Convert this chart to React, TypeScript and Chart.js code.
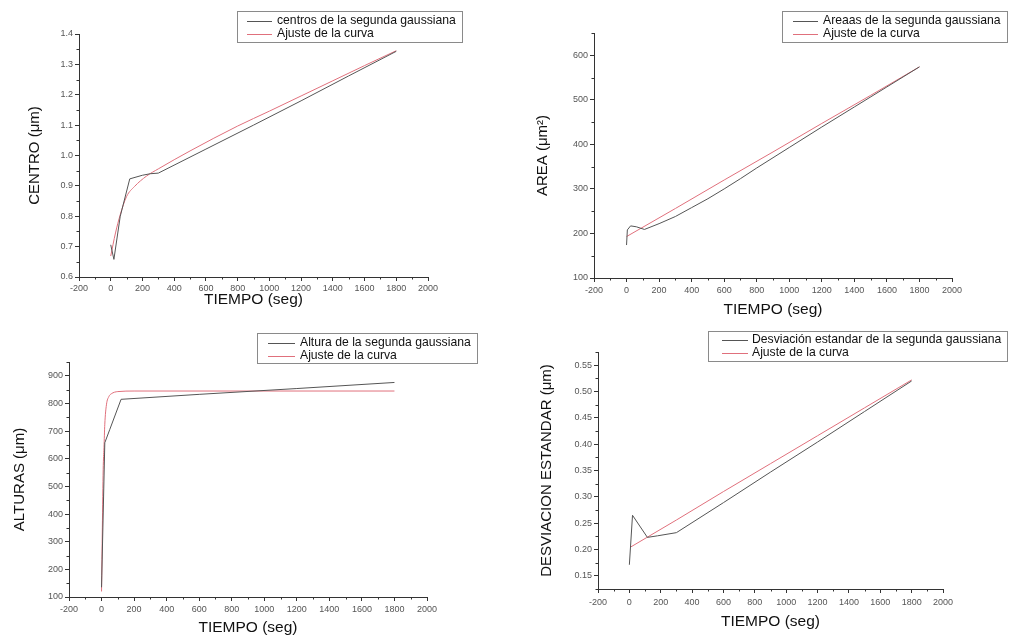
import React, { useEffect, useRef } from "react";
import { Chart, registerables } from "chart.js";

Chart.register(...registerables);

// ---------- DATA ----------
const timeTicks = [-200, 0, 200, 400, 600, 800, 1000, 1200, 1400, 1600, 1800, 2000];

// Panel 1: centros
const centroTime = [0, 20, 60, 120, 200, 250, 300, 600, 900, 1200, 1500, 1800];
const centroValues = [0.706, 0.658, 0.8, 0.923, 0.935, 0.94, 0.942, 1.021, 1.1, 1.18, 1.262, 1.343];
const centroFitTime = [0, 30, 60, 100, 150, 225, 300, 500, 800, 1000, 1200, 1400, 1600, 1800];
const centroFitValues = [0.669, 0.745, 0.805, 0.865, 0.898, 0.932, 0.956, 1.015, 1.097, 1.146, 1.196, 1.246, 1.296, 1.345];
const centroTicks = [0.6, 0.7, 0.8, 0.9, 1.0, 1.1, 1.2, 1.3, 1.4];

// Panel 2: areas
const areaTime = [0, 5, 25, 60, 110, 200, 300, 400, 500, 600, 700, 800, 900, 1000, 1200, 1400, 1600, 1800];
const areaValues = [174, 208, 217, 215, 209, 222, 238, 258, 278, 300, 323, 347, 370, 393, 439, 484, 529, 574];
const areaFitTime = [0, 300, 600, 900, 1200, 1500, 1800];
const areaFitValues = [193, 256, 320, 383, 447, 510, 574];
const areaTicks = [100, 200, 300, 400, 500, 600];

// Panel 3: alturas
const alturaTime = [0, 20, 50, 120, 600, 1200, 1800];
const alturaValues = [135, 658, 705, 815, 833, 854, 876];
const alturaFitTime = [0, 5, 10, 15, 20, 30, 45, 60, 100, 200, 1800];
const alturaFitValues = [120, 350, 560, 640, 725, 795, 825, 835, 843, 845, 845];
const alturaTicks = [100, 200, 300, 400, 500, 600, 700, 800, 900];

// Panel 4: desviacion
const desvTime = [0, 20, 115, 180, 300, 600, 900, 1200, 1500, 1800];
const desvValues = [0.171, 0.265, 0.223, 0.226, 0.232, 0.289, 0.347, 0.404, 0.462, 0.52];
const desvFitTime = [10, 300, 600, 900, 1200, 1500, 1800];
const desvFitValues = [0.205, 0.256, 0.31, 0.363, 0.416, 0.469, 0.522];
const desvTicks = [0.15, 0.2, 0.25, 0.3, 0.35, 0.4, 0.45, 0.5, 0.55];

// ---------- STYLE ----------
const FONT = "'Liberation Sans', Arial, Helvetica, sans-serif";
const AXIS = "#333333";
const DATA_COLOR = "#555555";
const FIT_COLOR = "#e0707c";

const zip = (xs: number[], ys: number[]) => xs.map((x, i) => ({ x, y: ys[i] }));

const minorTicks = {
  id: "minorTicks",
  afterDraw(chart: any) {
    const ctx = chart.ctx;
    ctx.save();
    ctx.strokeStyle = AXIS;
    ctx.lineWidth = 1;
    ctx.beginPath();
    const draw = (scale: any, isX: boolean) => {
      const t = scale.ticks.map((k: any) => k.value);
      if (t.length < 2) return;
      const step = t[1] - t[0];
      for (let v = t[0] - step / 2; v <= scale.max + 1e-9; v += step) {
        if (v < scale.min - 1e-9) continue;
        const p = Math.round(scale.getPixelForValue(v)) + 0.5;
        if (isX) {
          ctx.moveTo(p, scale.top);
          ctx.lineTo(p, scale.top + 2.5);
        } else {
          ctx.moveTo(scale.right, p);
          ctx.lineTo(scale.right - 2.5, p);
        }
      }
    };
    draw(chart.scales.x, true);
    draw(chart.scales.y, false);
    ctx.stroke();
    ctx.restore();
  },
};

const boxLegend = {
  id: "boxLegend",
  afterDraw(chart: any, _args: any, opts: any) {
    if (!opts || !opts.box) return;
    const b = opts.box;
    const ctx = chart.ctx;
    ctx.save();
    ctx.font = `${b.fontSize}px ${FONT}`;
    const labels = chart.data.datasets.map((d: any) => d.label);
    const tw = Math.max(...labels.map((l: string) => ctx.measureText(l).width));
    const w = Math.round(b.textX + tw + 6 - b.x);
    ctx.fillStyle = "#ffffff";
    ctx.fillRect(b.x, b.y, w, b.h);
    ctx.strokeStyle = "#8a8a8a";
    ctx.lineWidth = 1;
    ctx.strokeRect(b.x + 0.5, b.y + 0.5, w, b.h);
    chart.data.datasets.forEach((d: any, i: number) => {
      const y = b.rows[i];
      ctx.strokeStyle = d.borderColor;
      ctx.lineWidth = 1;
      ctx.beginPath();
      ctx.moveTo(b.s1, Math.round(y) + 0.5);
      ctx.lineTo(b.s2, Math.round(y) + 0.5);
      ctx.stroke();
      ctx.fillStyle = "#111111";
      ctx.textBaseline = "middle";
      ctx.textAlign = "left";
      ctx.fillText(d.label, b.textX, y);
    });
    ctx.restore();
  },
};

type PanelCfg = {
  left: number;
  top: number;
  w: number;
  h: number;
  padTop: number;
  padRight: number;
  yWidth: number;
  xHeight: number;
  yMin: number;
  yMax: number;
  yTicks: number[];
  yDecimals: number;
  yTitle: string;
  yTitlePad: number;
  xTitlePad: number;
  xTickPad: number;
  dataLabel: string;
  data: { x: number; y: number }[];
  fit: { x: number; y: number }[];
  fitSmooth: boolean;
  box: any;
};

function buildConfig(p: PanelCfg): any {
  return {
    type: "line",
    data: {
      datasets: [
        {
          label: p.dataLabel,
          data: p.data,
          borderColor: DATA_COLOR,
          borderWidth: 1,
          pointRadius: 0,
          tension: 0,
          fill: false,
        },
        {
          label: "Ajuste de la curva",
          data: p.fit,
          borderColor: FIT_COLOR,
          borderWidth: 1,
          pointRadius: 0,
          cubicInterpolationMode: p.fitSmooth ? "monotone" : "default",
          tension: 0,
          fill: false,
        },
      ],
    },
    options: {
      animation: false,
      responsive: false,
      devicePixelRatio: 1,
      events: [],
      layout: { padding: { top: p.padTop, right: p.padRight, left: 0, bottom: 0 } },
      plugins: {
        legend: { display: false },
        tooltip: { enabled: false },
        boxLegend: { box: p.box },
      },
      scales: {
        x: {
          type: "linear",
          min: -200,
          max: 2000,
          afterBuildTicks: (s: any) => {
            s.ticks = timeTicks.map((v) => ({ value: v }));
          },
          afterFit: (s: any) => {
            s.height = p.xHeight;
          },
          ticks: {
            autoSkip: false,
            maxRotation: 0,
            padding: p.xTickPad,
            color: "#555555",
            font: { family: FONT, size: 9 },
            callback: (v: any) => String(v),
          },
          grid: { drawOnChartArea: false, drawTicks: true, tickLength: 4, color: AXIS },
          border: { color: AXIS, width: 1 },
          title: {
            display: true,
            text: "TIEMPO (seg)",
            color: "#111111",
            font: { family: FONT, size: 15.5 },
            padding: { top: 0, bottom: p.xTitlePad },
          },
        },
        y: {
          type: "linear",
          min: p.yMin,
          max: p.yMax,
          afterBuildTicks: (s: any) => {
            s.ticks = p.yTicks.map((v) => ({ value: v }));
          },
          afterFit: (s: any) => {
            s.width = p.yWidth;
          },
          ticks: {
            autoSkip: false,
            padding: 2,
            color: "#555555",
            font: { family: FONT, size: 9 },
            callback: (v: any) => Number(v).toFixed(p.yDecimals),
          },
          grid: { drawOnChartArea: false, drawTicks: true, tickLength: 4, color: AXIS },
          border: { color: AXIS, width: 1 },
          title: {
            display: true,
            text: p.yTitle,
            color: "#111111",
            font: { family: FONT, size: 15 },
            padding: { top: p.yTitlePad, bottom: 0 },
          },
        },
      },
    },
    plugins: [minorTicks, boxLegend],
  };
}

const panels: PanelCfg[] = [
  {
    left: 0, top: 0, w: 500, h: 320,
    padTop: 34, padRight: 72, yWidth: 79, xHeight: 43,
    yMin: 0.6, yMax: 1.4, yTicks: centroTicks, yDecimals: 1,
    yTitle: "CENTRO (μm)", yTitlePad: 26, xTitlePad: 11, xTickPad: 2,
    dataLabel: "centros de la segunda gaussiana",
    data: zip(centroTime, centroValues),
    fit: zip(centroFitTime, centroFitValues),
    fitSmooth: true,
    box: { x: 237, y: 11, h: 31, s1: 247, s2: 272, textX: 277, rows: [20.5, 34], fontSize: 12.2 },
  },
  {
    left: 500, top: 0, w: 511, h: 320,
    padTop: 33, padRight: 59, yWidth: 94, xHeight: 42,
    yMin: 100, yMax: 650, yTicks: areaTicks, yDecimals: 0,
    yTitle: "AREA (μm²)", yTitlePad: 34, xTitlePad: 1, xTickPad: 3,
    dataLabel: "Areaas de la segunda gaussiana",
    data: zip(areaTime, areaValues),
    fit: zip(areaFitTime, areaFitValues),
    fitSmooth: false,
    box: { x: 282, y: 11, h: 31, s1: 293, s2: 318, textX: 323, rows: [20.5, 34], fontSize: 12.2 },
  },
  {
    left: 0, top: 320, w: 500, h: 323,
    padTop: 42, padRight: 73, yWidth: 69, xHeight: 46,
    yMin: 100, yMax: 950, yTicks: alturaTicks, yDecimals: 0,
    yTitle: "ALTURAS (μm)", yTitlePad: 11, xTitlePad: 6, xTickPad: 3,
    dataLabel: "Altura de la segunda gaussiana",
    data: zip(alturaTime, alturaValues),
    fit: zip(alturaFitTime, alturaFitValues),
    fitSmooth: true,
    box: { x: 257, y: 13, h: 30, s1: 268, s2: 295, textX: 300, rows: [22.5, 36], fontSize: 12.2 },
  },
  {
    left: 500, top: 320, w: 511, h: 323,
    padTop: 32, padRight: 68, yWidth: 98, xHeight: 54,
    yMin: 0.125, yMax: 0.575, yTicks: desvTicks, yDecimals: 2,
    yTitle: "DESVIACION ESTANDAR (μm)", yTitlePad: 38, xTitlePad: 12, xTickPad: 4,
    dataLabel: "Desviación estandar de la segunda gaussiana",
    data: zip(desvTime, desvValues),
    fit: zip(desvFitTime, desvFitValues),
    fitSmooth: false,
    box: { x: 208, y: 11, h: 30, s1: 222, s2: 248, textX: 252, rows: [19.5, 33], fontSize: 12.2 },
  },
];

function Panel({ cfg }: { cfg: PanelCfg }) {
  const ref = useRef<HTMLCanvasElement>(null);
  useEffect(() => {
    const chart = new Chart(ref.current as HTMLCanvasElement, buildConfig(cfg));
    return () => chart.destroy();
  }, [cfg]);
  return (
    <canvas
      ref={ref}
      width={cfg.w}
      height={cfg.h}
      style={{ position: "absolute", left: cfg.left, top: cfg.top, width: cfg.w, height: cfg.h }}
    />
  );
}

export default function App() {
  return (
    <div
      style={{
        position: "absolute",
        left: 0,
        top: 0,
        width: 1011,
        height: 643,
        background: "#ffffff",
        overflow: "hidden",
      }}
    >
      {panels.map((p, i) => (
        <Panel key={i} cfg={p} />
      ))}
    </div>
  );
}
